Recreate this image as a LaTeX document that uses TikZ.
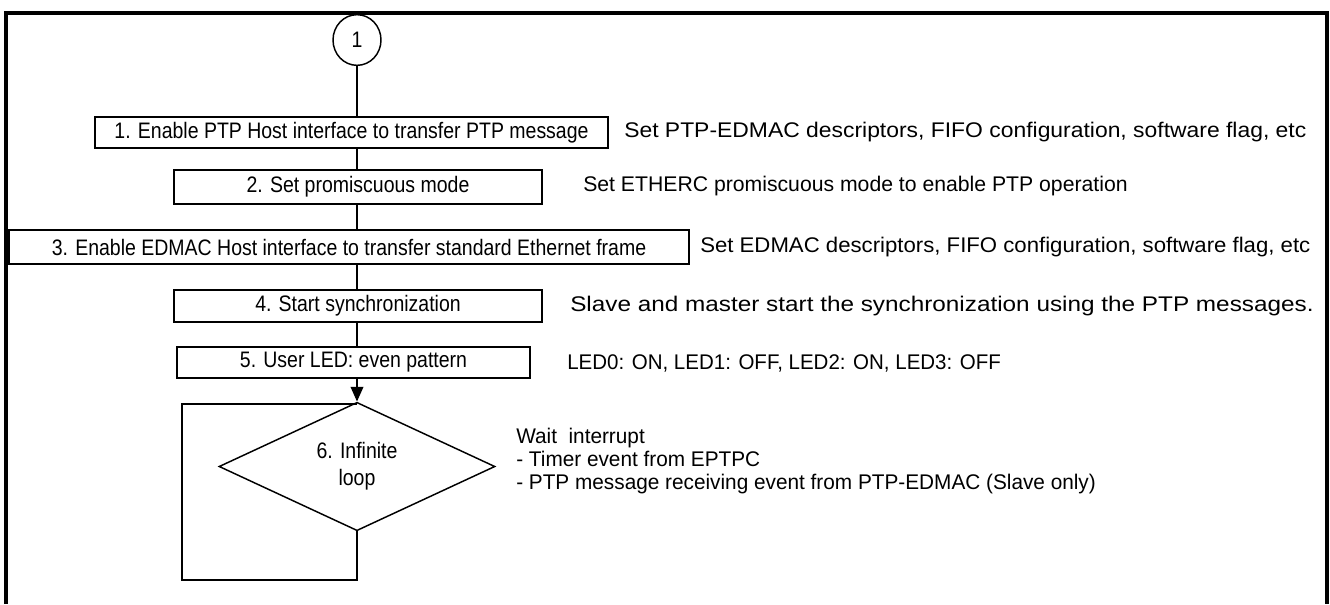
\documentclass[tikz,border=0pt]{standalone}
\usepackage{fontspec}
\setmainfont{Liberation Sans}
\newfontfamily\boxfont[FakeStretch=0.87]{Liberation Sans}
\usetikzlibrary{shapes.geometric,arrows.meta}
\begin{document}
\begin{tikzpicture}[x=0.75pt,y=-0.75pt,
  stepbox/.style={draw,line width=1.1pt,inner sep=0pt,font=\boxfont\fontsize{16.8}{19}\selectfont},
  note/.style={anchor=west,inner sep=0pt,font=\fontsize{15.9}{18}\selectfont},
  conn/.style={line width=1.1pt},
  frame/.style={line width=2.4pt}]
\useasboundingbox (0,0) rectangle (1330,604);
\fill[white] (0,0) rectangle (1330,604);
% outer frame (open at bottom)
\coordinate (fbl) at (6,604);
\coordinate (ftl) at (6,13);
\coordinate (ftr) at (1327,13);
\coordinate (fbr) at (1327,604);
\draw[frame] (fbl) -- (ftl) -- (ftr) -- (fbr);

\node[draw,line width=1.1pt,ellipse,minimum width=36pt,minimum height=38pt,inner sep=0pt,font=\boxfont\fontsize{16.8}{19}\selectfont] (c1) at (357,40) {1};

\node[stepbox,minimum width=384.75pt,minimum height=23.25pt] (b1) at (351.5,132.5) {1. Enable PTP Host interface to transfer PTP message};
\node[stepbox,minimum width=276pt,minimum height=25.5pt] (b2) at (358,187) {2. Set promiscuous mode};
\node[stepbox,minimum width=510pt,minimum height=25.5pt] (b3) at (349,247) {3. Enable EDMAC Host interface to transfer standard Ethernet frame};
\node[stepbox,minimum width=276pt,minimum height=24pt] (b4) at (358,306) {4. Start synchronization};
\node[stepbox,minimum width=264.75pt,minimum height=23.25pt] (b5) at (353.5,362.5) {5. User LED: even pattern};
\node[stepbox,diamond,minimum width=207pt,minimum height=57.75pt,align=center,font=\boxfont\fontsize{16.8}{20}\selectfont] (d6) at (357,466.5) {6. Infinite\\loop};

\draw[conn] (c1.south) -- (c1.south |- b1.north);
\draw[conn] (c1.south |- b1.south) -- (c1.south |- b2.north);
\draw[conn] (c1.south |- b2.south) -- (c1.south |- b3.north);
\draw[conn] (c1.south |- b3.south) -- (c1.south |- b4.north);
\draw[conn] (c1.south |- b4.south) -- (c1.south |- b5.north);
\draw[conn,-{Triangle[length=11pt,width=9.5pt]}] (c1.south |- b5.south) -- (d6.north);

\coordinate (lbr) at (357,580);
\coordinate (lbl) at (182,580);
\coordinate (ltl) at (182,404);
\coordinate (ltr) at (357,404);
\draw[conn] (d6.south) -- (lbr) -- (lbl) -- (ltl) -- (ltr);

\node[note] (t1) at (624,132) {\scalebox{1.08}[1]{Set PTP-EDMAC descriptors, FIFO configuration, software flag, etc}};
\node[note] (t2) at (583,186) {Set ETHERC promiscuous mode to enable PTP operation};
\node[note] (t3) at (700,247) {\scalebox{1.046}[1]{Set EDMAC descriptors, FIFO configuration, software flag, etc}};
\node[note] (t4) at (570,306) {\scalebox{1.147}[1]{Slave and master start the synchronization using the PTP messages.}};
\node[note] (t5) at (567,363) {\scalebox{0.967}[1]{LED0: ON, LED1: OFF, LED2: ON, LED3: OFF}};
\node[note,align=left,font=\fontsize{15.9}{17.6}\selectfont] (t6) at (516,461) {\scalebox{0.98}[1]{Wait\ \ interrupt}\\\scalebox{0.98}[1]{- Timer event from EPTPC}\\\scalebox{0.98}[1]{- PTP message receiving event from PTP-EDMAC (Slave only)}};
\end{tikzpicture}
\end{document}
